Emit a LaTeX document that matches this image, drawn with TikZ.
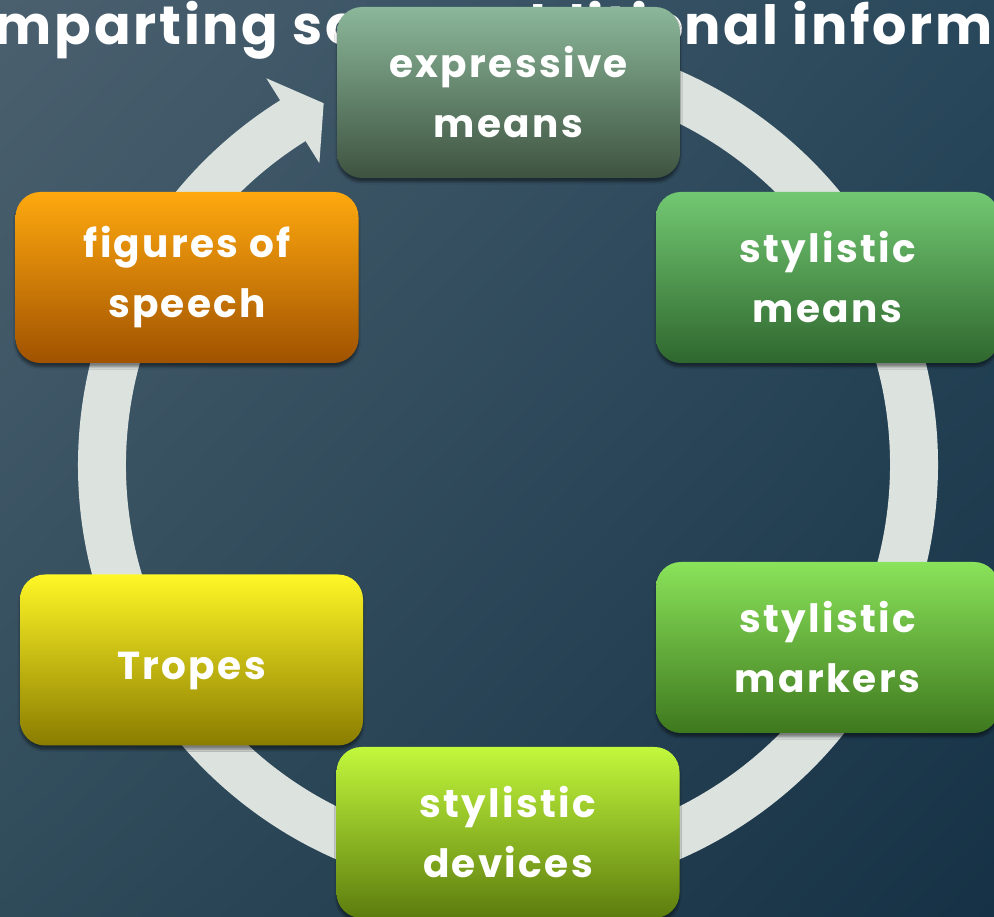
\documentclass[tikz,border=0pt]{standalone}
\usepackage{fontspec}
\setmainfont{Poppins}
\newfontfamily\titlefont{Poppins}[LetterSpace=5]
\newfontfamily\boxfont{Poppins}[LetterSpace=6]
\usetikzlibrary{shadows.blur,shadings}
\definecolor{bgUL}{HTML}{4B606F}
\definecolor{bgUR}{HTML}{29485B}
\definecolor{bgLL}{HTML}{2F4B5A}
\definecolor{bgLR}{HTML}{163145}
\definecolor{ring}{HTML}{DCE3DF}
\definecolor{expT}{HTML}{8BB79A}
\definecolor{expB}{HTML}{3E5340}
\definecolor{meanT}{HTML}{72C872}
\definecolor{meanB}{HTML}{2F672E}
\definecolor{markT}{HTML}{8AE35A}
\definecolor{markB}{HTML}{3E781E}
\definecolor{devT}{HTML}{C2F83C}
\definecolor{devB}{HTML}{5C7C0E}
\definecolor{tropT}{HTML}{FFF726}
\definecolor{tropB}{HTML}{8A7C00}
\definecolor{figT}{HTML}{FFA90F}
\definecolor{figB}{HTML}{A05200}
\tikzset{
  box/.style={rounded corners=25pt, minimum width=343pt, minimum height=171pt,
    inner sep=0pt, align=center, text=white,
    font=\boxfont\bfseries\fontsize{39}{60}\selectfont,
    blur shadow={shadow xshift=0pt, shadow yshift=-4pt, shadow blur steps=6, shadow opacity=45}},
  onebox/.style={box, text height=44pt, text depth=4pt},
}
\begin{document}
\begin{tikzpicture}[x=1pt,y=1pt]
\useasboundingbox (0,0) rectangle (994,917);
\clip (0,0) rectangle (994,917);
\shade[upper left=bgUL, upper right=bgUR, lower left=bgLL, lower right=bgLR] (0,0) rectangle (994,917);
% title
\node[anchor=base west, text=white, font=\titlefont\bfseries\fontsize{54}{54}\selectfont, inner sep=0pt] (title) at (684,872) {\llap{Imparting some additio}nal information};
% ring with arrow
\begin{scope}[shift={(508,452)}]
\fill[ring] (85:430) arc[start angle=85, end angle=-238, radius=430]
  -- (-238:456) -- (-243:406) -- (-238:356) -- (-238:382)
  arc[start angle=-238, end angle=85, radius=382] -- cycle;
\end{scope}
% boxes
\node[box, top color=expT, bottom color=expB] (expr) at (508.5,824.5) {expressive\\means};
\node[box, top color=meanT, bottom color=meanB] (means) at (827.5,639.5) {stylistic\\means};
\node[box, top color=markT, bottom color=markB] (markers) at (827.5,269.5) {stylistic\\markers};
\node[box, top color=devT, bottom color=devB] (devices) at (508,84.5) {stylistic\\devices};
\node[onebox, top color=tropT, bottom color=tropB] (tropes) at (191.5,257) {Tropes};
\node[box, top color=figT, bottom color=figB] (figures) at (187,639.5) {figures of\\speech};
\end{tikzpicture}
\end{document}
